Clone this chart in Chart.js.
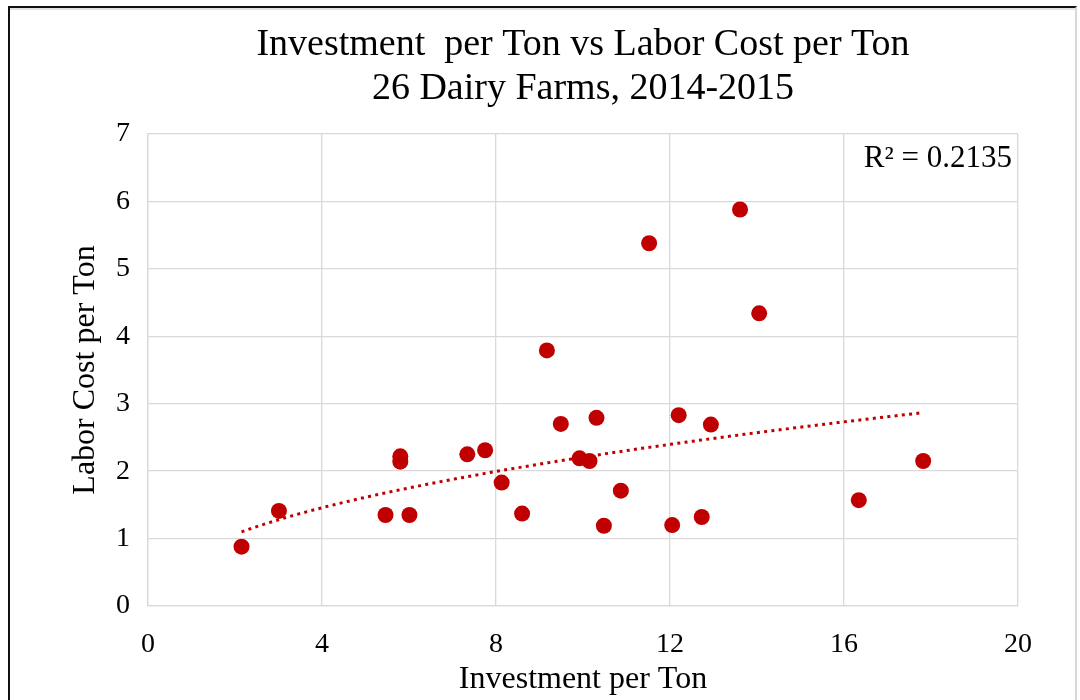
<!DOCTYPE html>
<html>
<head>
<meta charset="utf-8">
<script src="https://cdn.jsdelivr.net/npm/chart.js@4/dist/chart.umd.min.js"></script>
<style>
  html, body { margin: 0; padding: 0; background: #fff; }
  #wrap { position: relative; width: 1080px; height: 700px; overflow: hidden; }
  #frame { position: absolute; left: 8px; top: 6px; width: 1069px; height: 720px;
           border-top: 2px solid #111; border-left: 2px solid #111; border-right: 2px solid #d8d8d8;
           box-shadow: inset 0 2px 0 #e2e2e2; box-sizing: border-box; pointer-events: none; }
  canvas { position: absolute; left: 0; top: 0; }
</style>
</head>
<body>
<div id="wrap">
  <canvas id="c" width="1080" height="700"></canvas>
  <div id="frame"></div>
</div>
<script>
const titleLines = ["Investment  per Ton vs Labor Cost per Ton", "26 Dairy Farms, 2014-2015"];
const xAxisTitle = "Investment per Ton";
const yAxisTitle = "Labor Cost per Ton";
const r2Label = "R\u00B2 = 0.2135";

const investment = [2.15, 3.01, 5.46, 6.01, 5.80, 5.80, 7.34, 7.75, 8.13, 8.60, 9.17, 9.49, 9.92, 10.15, 10.31, 10.48, 10.87, 11.52, 12.05, 12.20, 12.73, 12.94, 13.61, 14.05, 16.34, 17.82];
const laborCost  = [0.88, 1.41, 1.35, 1.35, 2.22, 2.14, 2.25, 2.31, 1.83, 1.37, 3.79, 2.70, 2.19, 2.15, 2.79, 1.19, 1.71, 5.38, 1.20, 2.83, 1.32, 2.69, 5.88, 4.34, 1.57, 2.15];

const xTicks = [0, 4, 8, 12, 16, 20];
const yTicks = [0, 1, 2, 3, 4, 5, 6, 7];

// Power trendline (least squares in log-log space), as in the spreadsheet chart
const points = investment.map((x, i) => ({ x: x, y: laborCost[i] }));
const n = points.length;
let sx = 0, sy = 0, sxx = 0, sxy = 0;
points.forEach(p => { const lx = Math.log(p.x), ly = Math.log(p.y); sx += lx; sy += ly; sxx += lx * lx; sxy += lx * ly; });
const b = (n * sxy - sx * sy) / (n * sxx - sx * sx);
const a = Math.exp((sy - b * sx) / n);
const xMin = Math.min(...investment), xMax = Math.max(...investment);
const trend = [];
const steps = 80;
for (let i = 0; i <= steps; i++) {
  const x = xMin + (xMax - xMin) * i / steps;
  trend.push({ x: x, y: a * Math.pow(x, b) });
}

const FONT = "'Liberation Serif', 'Times New Roman', serif";
const RED = "#c00000";
const GRID = "#d9d9d9";

const r2Plugin = {
  id: 'r2Plugin',
  afterDraw(chart) {
    const ctx = chart.ctx;
    const area = chart.chartArea;
    ctx.save();
    ctx.font = "31px " + FONT;
    ctx.fillStyle = "#000";
    ctx.textAlign = "right";
    ctx.textBaseline = "middle";
    ctx.fillText(r2Label, area.right - 6, area.top + 25);
    ctx.restore();
  }
};

new Chart(document.getElementById('c'), {
  type: 'scatter',
  data: {
    datasets: [
      {
        label: 'Farms',
        data: points,
        backgroundColor: RED,
        borderWidth: 0,
        pointRadius: 8,
        pointHoverRadius: 8,
        order: 1
      },
      {
        label: 'Power trend',
        type: 'line',
        data: trend,
        borderColor: RED,
        borderWidth: 3,
        borderDash: [3, 4.3],
        pointRadius: 0,
        fill: false,
        tension: 0,
        order: 2
      }
    ]
  },
  plugins: [r2Plugin],
  options: {
    responsive: false,
    animation: false,
    events: [],
    layout: { padding: { top: 0, right: 62, bottom: 0, left: 0 } },
    plugins: {
      legend: { display: false },
      tooltip: { enabled: false },
      title: {
        display: true,
        fullSize: false,
        text: titleLines,
        color: '#000',
        font: { family: FONT, size: 38, weight: 'normal', lineHeight: 1.15 },
        padding: { top: 23, bottom: 23.6 }
      }
    },
    scales: {
      x: {
        type: 'linear',
        min: 0, max: 20,
        afterBuildTicks: (s) => { s.ticks = xTicks.map(v => ({ value: v })); },
        afterFit: (s) => { s.height = 94; },
        grid: { color: GRID, lineWidth: 1.33, drawTicks: false },
        border: { color: GRID, width: 1.33 },
        ticks: { color: '#000', font: { family: FONT, size: 28 }, padding: 22, maxRotation: 0 },
        title: { display: true, text: xAxisTitle, color: '#000', font: { family: FONT, size: 32, lineHeight: 1.2 }, padding: { top: 0, bottom: 1 } }
      },
      y: {
        type: 'linear',
        min: 0, max: 7,
        afterBuildTicks: (s) => { s.ticks = yTicks.map(v => ({ value: v })); },
        afterFit: (s) => { s.width = 148; },
        grid: { color: GRID, lineWidth: 1.33, drawTicks: false },
        border: { color: GRID, width: 1.33 },
        ticks: { color: '#000', font: { family: FONT, size: 28 }, padding: 18 },
        title: { display: true, text: yAxisTitle, color: '#000', font: { family: FONT, size: 32, lineHeight: 1.2 }, padding: { top: 66, bottom: 0 } }
      }
    }
  }
});
</script>
</body>
</html>
